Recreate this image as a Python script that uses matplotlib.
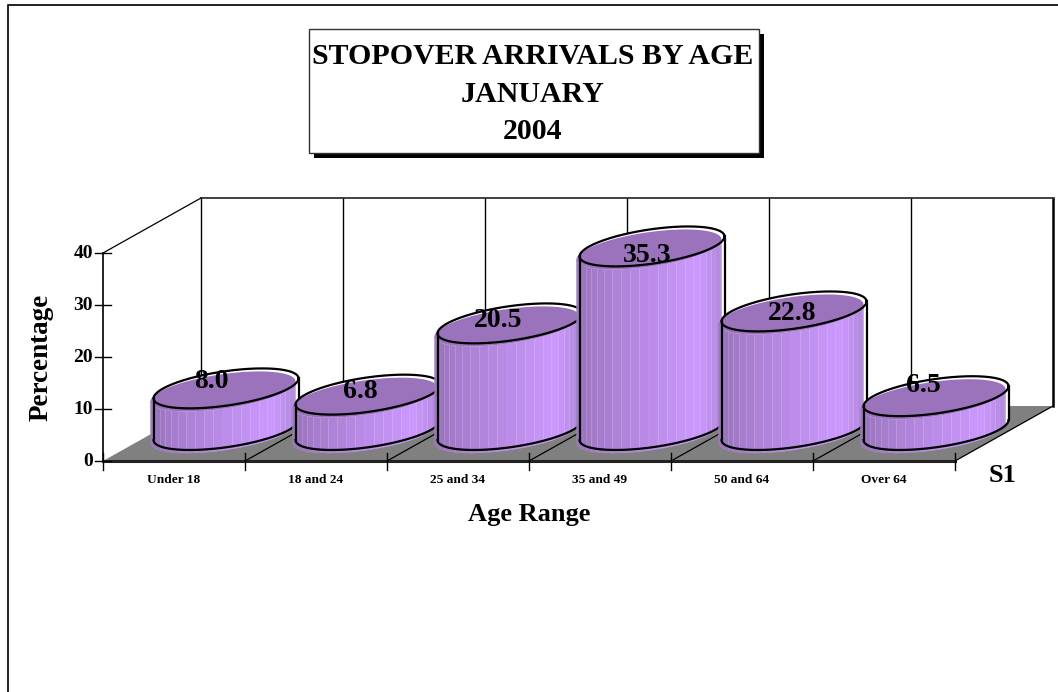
"""Stopover arrivals by age, drawn as faux-3D cylinders on a percentage scale."""

import matplotlib

matplotlib.use("Agg")
import matplotlib.pyplot as plt
import numpy as np
from matplotlib.colors import to_rgb

plt.rcParams["font.family"] = ["Liberation Serif", "DejaVu Serif"]

AGE_RANGES = ["Under 18", "18 and 24", "25 and 34", "35 and 49", "50 and 64", "Over 64"]
PERCENTAGES = [8.0, 6.8, 20.5, 35.3, 22.8, 6.5]
Y_TICKS = [0, 10, 20, 30, 40]
TITLE = "STOPOVER ARRIVALS BY AGE\nJANUARY\n2004"

W, H = 1058, 692
X0_PX, Y0_PX = 103, 461  # where category 0 / 0 percent land
PX_PER_CAT = 142
PX_PER_PCT = 5.2
DEPTH_X = 98 / PX_PER_CAT  # full depth of the floor
DEPTH_Y = 55 / PX_PER_PCT
# label offsets from the top of each cylinder, in pixels (x, y up)
LABEL_NUDGE = [(-15, 7), (-8, 3), (-12, 3), (-5, -9), (-2, -2), (-13, 11)]

fig = plt.figure(figsize=(W / 100, H / 100), dpi=100)
ax = fig.add_axes([0, 0, 1, 1])
ax.set_xlim(-X0_PX / PX_PER_CAT, (W - X0_PX) / PX_PER_CAT)
ax.set_ylim((Y0_PX - H) / PX_PER_PCT, Y0_PX / PX_PER_PCT)
ax.axis("off")


def px_x(p):
    return (p - X0_PX) / PX_PER_CAT


def px_y(p):
    return (Y0_PX - p) / PX_PER_PCT


def ellipse(cx, cy, t):
    # sheared ellipse, same tilt as the sloped floor
    x = cx + 72.5 / PX_PER_CAT * np.cos(t)
    y = cy + (10 * np.cos(t) + 17.3 * np.sin(t)) / PX_PER_PCT
    return x, y


def lerp_color(a, b, f):
    a, b = np.array(to_rgb(a)), np.array(to_rgb(b))
    return tuple(a + (b - a) * f)


def strip_color(f):
    if f < 0.72:
        return lerp_color("#8f6bb0", "#cc99ff", f / 0.72)
    return lerp_color("#cc99ff", "#a77fd0", (f - 0.72) / 0.28)


def draw_cylinder(i, value):
    cx = i + 0.5 + 52 / PX_PER_CAT
    base = 31 / PX_PER_PCT
    top = base + value
    z = 10 + i
    t_front = np.linspace(np.pi, 2 * np.pi, 121)
    t_full = np.linspace(0, 2 * np.pi, 241)
    sx, sy = -3 / PX_PER_CAT, -3 / PX_PER_PCT  # fill sits off the outline

    # white inside of the outline shows where the shifted fill leaves a gap
    ox, oy = ellipse(cx, top, t_full)
    ax.fill(ox, oy, color="white", lw=0, zorder=z)
    bx, by = ellipse(cx, base, t_front)
    ax.fill(
        np.r_[bx, bx[::-1]], np.r_[by, by[::-1] + value], color="white", lw=0, zorder=z
    )

    # body: vertical strips with faint pale seams
    n = 24
    edges = np.linspace(np.pi, 2 * np.pi, n + 1)
    for k in range(n):
        ts = np.linspace(edges[k], edges[k + 1], 6)
        x, y = ellipse(cx + sx, base + sy, ts)
        c = strip_color((k + 0.5) / n)
        ax.fill(
            np.r_[x, x[::-1]],
            np.r_[y, y[::-1] + value],
            color=c,
            ec=lerp_color(c, "#ffffff", 0.2),
            lw=0.25,
            zorder=z + 0.1,
        )
    fx, fy = ellipse(cx + sx, top + sy, t_full)
    ax.fill(fx, fy, color="#9b72bc", lw=0, zorder=z + 0.2)

    ax.plot(ox, oy, color="black", lw=1.6, zorder=z + 0.3)
    ax.plot(bx, by, color="black", lw=1.6, zorder=z + 0.3)
    for t in (np.pi, 2 * np.pi):
        ex, ey = ellipse(cx, base, np.array([t]))
        ax.plot([ex[0], ex[0]], [ey[0], ey[0] + value], color="black", lw=1.6, zorder=z + 0.3)

    dx, dy = LABEL_NUDGE[i]
    ax.annotate(
        f"{value:.1f}",
        (cx, top),
        xytext=(dx * 0.72, dy * 0.72),
        textcoords="offset points",
        ha="center",
        va="center",
        fontsize=20,
        fontweight="bold",
        zorder=30,
    )


n_cat = len(AGE_RANGES)

# page frame, clipped by the image on the right and bottom
ax.plot(
    [px_x(8), px_x(8), px_x(W + 5)],
    [px_y(H + 5), px_y(5), px_y(5)],
    color="#222222",
    lw=1.4,
    zorder=1,
)

# walls
for i in range(n_cat + 1):
    ax.plot(
        [i + DEPTH_X] * 2,
        [DEPTH_Y, 40 + DEPTH_Y],
        color="black",
        lw=1.0 if i < n_cat else 1.8,
        zorder=2,
    )
ax.plot([DEPTH_X, n_cat + DEPTH_X], [40 + DEPTH_Y] * 2, color="#333333", lw=1.3, zorder=2)
ax.plot([0, DEPTH_X], [40, 40 + DEPTH_Y], color="black", lw=0.9, zorder=2)

# floor
ax.fill(
    [0, n_cat, n_cat + DEPTH_X, DEPTH_X],
    [0, 0, DEPTH_Y, DEPTH_Y],
    color="#808080",
    lw=0,
    zorder=3,
)
for i in range(1, n_cat + 1):
    ax.plot([i, i + DEPTH_X], [0, DEPTH_Y], color="black", lw=0.9, zorder=4)
ax.plot([0, n_cat], [0, 0], color="#222222", lw=2.2, zorder=5)
ax.plot([0, 0], [0, 40], color="black", lw=1.2, zorder=5)

# ticks
for v in Y_TICKS:
    ax.plot([px_x(95), px_x(111)], [v, v], color="black", lw=1.0, zorder=5)
    ax.text(
        px_x(93), v, str(v), ha="right", va="center", fontsize=14, fontweight="bold"
    )
for i in range(n_cat + 1):
    ax.plot([i, i], [px_y(470), px_y(453)], color="black", lw=1.0, zorder=5)
for i, name in enumerate(AGE_RANGES):
    ax.text(
        i + 0.5, px_y(480), name, ha="center", va="center", fontsize=9.6, fontweight="bold"
    )

for i, v in enumerate(PERCENTAGES):
    draw_cylinder(i, v)

ax.text(
    px_x(529),
    px_y(515),
    "Age Range",
    ha="center",
    va="center",
    fontsize=19,
    fontweight="bold",
)
ax.text(
    px_x(41),
    px_y(357),
    "Percentage",
    rotation=90,
    ha="center",
    va="center",
    fontsize=19.5,
    fontweight="bold",
)
ax.text(px_x(1003), px_y(476), "S1", ha="center", va="center", fontsize=19, fontweight="bold")

# title box with hard drop shadow
bx0, bx1, by0, by1 = px_x(309), px_x(759), px_y(153), px_y(29)
sx, sy = 5 / PX_PER_CAT, -5 / PX_PER_PCT
ax.fill(
    [bx0 + sx, bx1 + sx, bx1 + sx, bx0 + sx],
    [by0 + sy, by0 + sy, by1 + sy, by1 + sy],
    color="black",
    lw=0,
    zorder=6,
)
ax.fill(
    [bx0, bx1, bx1, bx0],
    [by0, by0, by1, by1],
    fc="white",
    ec="#333333",
    lw=1.0,
    zorder=7,
)
ax.text(
    (bx0 + bx1) / 2 - 1 / PX_PER_CAT,
    px_y(94),
    TITLE,
    ha="center",
    va="center",
    fontsize=21.5,
    fontweight="bold",
    linespacing=1.48,
    zorder=8,
)

fig.savefig("out.png", dpi=100)
